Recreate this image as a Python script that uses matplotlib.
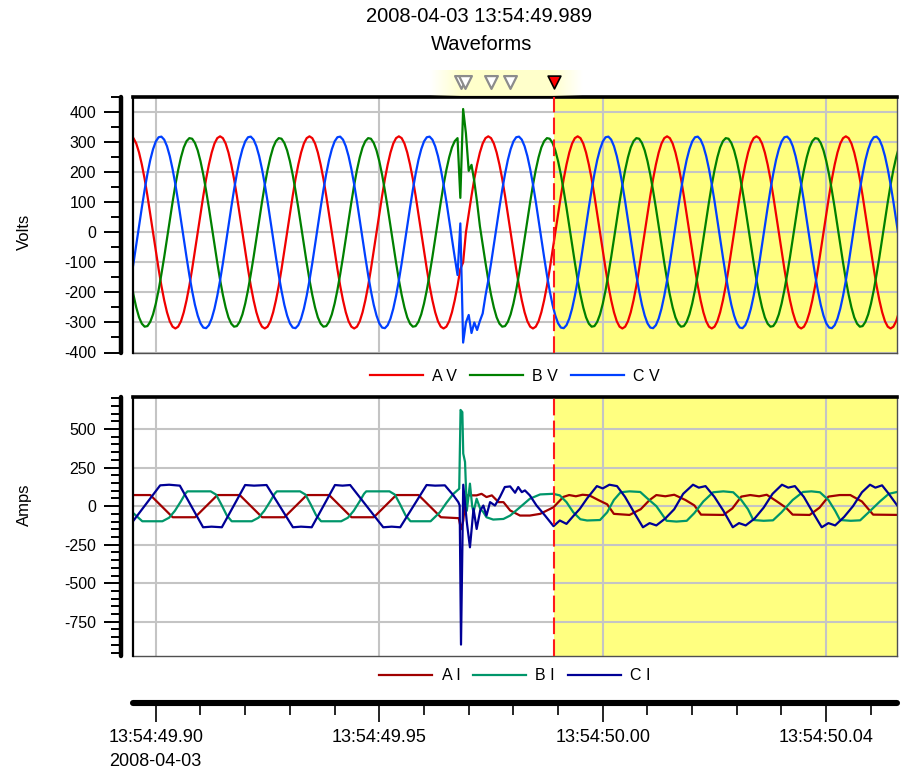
import numpy as np
import matplotlib
matplotlib.use("Agg")
import matplotlib.pyplot as plt
from matplotlib.ticker import MultipleLocator

plt.rcParams['font.family'] = ['Liberation Sans', 'DejaVu Sans']
plt.rcParams['axes.unicode_minus'] = False

# voltage channels are sampled every 0.625 ms; time is ms after 13:54:49.900
T0_MS = -5.6
DT_MS = 0.625

volts_a = [
    320, 314, 296, 266, 226, 178, 122, 62, 0, -62, -122, -178, -226, -266, -296, -314, -320, -314, -296, -266, -226, -178, -122, -62, 0, 62, 122, 178, 226, 266, 296, 314,
    320, 314, 296, 266, 226, 178, 122, 62, 0, -62, -122, -178, -226, -266, -296, -314, -320, -314, -296, -266, -226, -178, -122, -62, 0, 62, 122, 178, 226, 266, 296, 314,
    320, 314, 296, 266, 226, 178, 122, 62, 0, -62, -122, -178, -226, -266, -296, -314, -320, -314, -296, -266, -226, -178, -122, -62, 0, 62, 122, 178, 226, 266, 296, 314,
    320, 314, 296, 266, 226, 178, 122, 62, 0, -62, -122, -178, -226, -266, -296, -314, -320, -314, -296, -266, -226, -178, -122, -100, 0, 62, 122, 178, 226, 266, 296, 314,
    320, 314, 296, 266, 226, 178, 122, 62, 0, -62, -122, -178, -226, -266, -296, -314, -320, -314, -296, -266, -226, -178, -122, -62, 0, 62, 122, 178, 226, 266, 296, 314,
    320, 314, 296, 266, 226, 178, 122, 62, 0, -62, -122, -178, -226, -266, -296, -314, -320, -314, -296, -266, -226, -178, -122, -62, 0, 62, 122, 178, 226, 266, 296, 314,
    320, 314, 296, 266, 226, 178, 122, 62, 0, -62, -122, -178, -226, -266, -296, -314, -320, -314, -296, -266, -226, -178, -122, -62, 0, 62, 122, 178, 226, 266, 296, 314,
    320, 314, 296, 266, 226, 178, 122, 62, 0, -62, -122, -178, -226, -266, -296, -314, -320, -314, -296, -266, -226, -178, -122, -62, 0, 62, 122, 178, 226, 266, 296, 314,
    320, 314, 296, 266, 226, 178, 122, 62, 0, -62, -122, -178, -226, -266, -296, -314, -320, -314, -296, -266,
]
volts_b = [
    -158, -208, -250, -283, -304, -314, -312, -298, -273, -237, -192, -139, -82, -21, 41, 101, 158, 208, 250, 283, 304, 314, 312, 298, 273, 237, 192, 139, 82, 21, -41, -101,
    -158, -208, -250, -283, -304, -314, -312, -298, -273, -237, -192, -139, -82, -21, 41, 101, 158, 208, 250, 283, 304, 314, 312, 298, 273, 237, 192, 139, 82, 21, -41, -101,
    -158, -208, -250, -283, -304, -314, -312, -298, -273, -237, -192, -139, -82, -21, 41, 101, 158, 208, 250, 283, 304, 314, 312, 298, 273, 237, 192, 139, 82, 21, -41, -101,
    -158, -208, -250, -283, -304, -314, -312, -298, -273, -237, -192, -139, -82, -21, 41, 101, 158, 208, 250, 283, 304, 314, 115, 411, 330, 205, 225, 170, 100, 21, -41, -101,
    -158, -208, -250, -283, -304, -314, -312, -298, -273, -237, -192, -139, -82, -21, 41, 101, 158, 208, 250, 283, 304, 314, 312, 298, 273, 237, 192, 139, 82, 21, -41, -101,
    -158, -208, -250, -283, -304, -314, -312, -298, -273, -237, -192, -139, -82, -21, 41, 101, 158, 208, 250, 283, 304, 314, 312, 298, 273, 237, 192, 139, 82, 21, -41, -101,
    -158, -208, -250, -283, -304, -314, -312, -298, -273, -237, -192, -139, -82, -21, 41, 101, 158, 208, 250, 283, 304, 314, 312, 298, 273, 237, 192, 139, 82, 21, -41, -101,
    -158, -208, -250, -283, -304, -314, -312, -298, -273, -237, -192, -139, -82, -21, 41, 101, 158, 208, 250, 283, 304, 314, 312, 298, 273, 237, 192, 139, 82, 21, -41, -101,
    -158, -208, -250, -283, -304, -314, -312, -298, -273, -237, -192, -139, -82, -21, 41, 101, 158, 208, 250, 283,
]
volts_c = [
    -160, -103, -42, 21, 83, 142, 195, 241, 277, 303, 317, 319, 309, 287, 254, 211, 160, 103, 42, -21, -83, -142, -195, -241, -277, -303, -317, -319, -309, -287, -254, -211,
    -160, -103, -42, 21, 83, 142, 195, 241, 277, 303, 317, 319, 309, 287, 254, 211, 160, 103, 42, -21, -83, -142, -195, -241, -277, -303, -317, -319, -309, -287, -254, -211,
    -160, -103, -42, 21, 83, 142, 195, 241, 277, 303, 317, 319, 309, 287, 254, 211, 160, 103, 42, -21, -83, -142, -195, -241, -277, -303, -317, -319, -309, -287, -254, -211,
    -160, -103, -42, 21, 83, 142, 195, 241, 277, 303, 317, 319, 309, 287, 254, 211, 160, 103, 42, -21, -83, -142, 30, -367, -300, -275, -335, -300, -325, -295, -270, -211,
    -160, -103, -42, 21, 83, 142, 195, 241, 277, 303, 317, 319, 309, 287, 254, 211, 160, 103, 42, -21, -83, -142, -195, -241, -277, -303, -317, -319, -309, -287, -254, -211,
    -160, -103, -42, 21, 83, 142, 195, 241, 277, 303, 317, 319, 309, 287, 254, 211, 160, 103, 42, -21, -83, -142, -195, -241, -277, -303, -317, -319, -309, -287, -254, -211,
    -160, -103, -42, 21, 83, 142, 195, 241, 277, 303, 317, 319, 309, 287, 254, 211, 160, 103, 42, -21, -83, -142, -195, -241, -277, -303, -317, -319, -309, -287, -254, -211,
    -160, -103, -42, 21, 83, 142, 195, 241, 277, 303, 317, 319, 309, 287, 254, 211, 160, 103, 42, -21, -83, -142, -195, -241, -277, -303, -317, -319, -309, -287, -254, -211,
    -160, -103, -42, 21, 83, 142, 195, 241, 277, 303, 317, 319, 309, 287, 254, 211, 160, 103, 42, -21,
]

# current channels, as (ms, amps) breakpoints
amps_a_t = [-5.6, -1.2, 3.8, 8.8, 13.8, 18.8, 23.8, 28.8, 33.8, 38.8, 43.8, 48.8, 53.8, 58.8, 63.8,
            67.8, 68.3, 68.8, 69.3, 69.6, 71.8, 72.9, 74.0, 75.2, 76.7, 77.8, 79.3, 81.5, 83.7, 86.0,
            89.0, 91.2, 92.5, 94.0, 95.5, 97.0, 99.0, 101.0, 102.5, 106.0, 108.5, 110.5, 112.0, 114.0,
            116.0, 118.5, 120.5, 122.0, 127.0, 129.0, 131.0, 133.0, 135.0, 136.7, 139.0, 141.0, 142.5,
            146.3, 148.5, 150.5, 153.0, 155.4, 158.0, 160.5, 166.5]
amps_a = [72, 72, -72, -72, 72, 72, -72, -72, 72, 72, -72, -72, 72, 72, -72,
          -78, -150, -95, 45, 70, 70, 80, 59, 70, 26, 26, -28, -61, -61, -50,
          -7, 60, 72, 64, 74, 70, 40, 12, -50, -57, -20, 40, 72, 64,
          74, 40, 5, -55, -57, -15, 62, 72, 64, 74, 30, -10, -55,
          -57, -10, 62, 72, 72, 30, -55, -57]

amps_b_t = [-5.6, -3.0, 1.5, 3.0, 4.3, 5.6, 6.6, 7.1, 12.3, 13.5, 14.7, 15.9, 17.0,
            21.5, 23.0, 24.3, 25.6, 26.6, 27.1, 32.3, 33.5, 34.7, 35.9, 37.0,
            41.5, 43.0, 44.3, 45.6, 46.6, 47.1, 52.3, 53.5, 54.7, 55.9, 57.0,
            61.5, 63.6, 65.0, 66.6, 67.9, 68.2, 68.6, 68.8, 69.2, 69.6, 70.3, 70.8, 71.1, 71.8,
            72.6, 73.3, 74.0, 75.5, 77.8, 79.3, 81.5, 83.7, 86.0, 88.9, 90.4, 91.9, 93.4, 95.0,
            96.5, 99.4, 101.0, 102.5, 104.0, 106.0, 108.4, 110.0, 112.0, 114.3, 116.5, 118.8,
            120.5, 122.5, 124.7, 127.0, 129.2, 131.0, 132.5, 133.7, 136.0, 138.1, 140.0, 142.5,
            144.8, 146.7, 148.6, 150.5, 152.0, 153.1, 155.5, 157.6, 159.5, 162.0, 164.0, 166.5]
amps_b = [-30, -98, -98, -75, -30, 30, 80, 96, 96, 75, 10, -60, -98,
          -98, -75, -30, 30, 80, 96, 96, 75, 10, -60, -98,
          -98, -75, -30, 30, 80, 96, 96, 75, 10, -60, -98,
          -98, -39, 20, 80, 113, 624, 610, 341, 287, -30, 146, 0, -39, 48,
          -17, -39, -72, -87, -83, -61, -7, 48, 76, 80, 70, 26, -39, -85,
          -93, -90, -40, 40, 90, 96, 92, 50, 0, -95, -100, -95,
          -45, 30, 90, 96, 90, 40, -20, -90, -95, -92, -40, 40,
          92, 96, 90, 40, -30, -90, -95, -92, -40, 30, 80, 96]

amps_c_t = [-5.6, 1.0, 3.0, 5.4, 10.6, 12.5, 14.8, 20.0, 22.0, 24.8, 30.7, 32.5, 34.9,
            40.1, 41.8, 43.5, 50.9, 52.8, 54.7, 60.6, 62.5, 64.7, 66.6, 67.7, 68.0, 68.3,
            68.8, 69.6, 70.3, 71.1, 71.8, 72.6, 73.3, 74.0, 74.8, 75.9, 77.0, 78.1, 79.3,
            80.4, 81.1, 81.9, 82.6, 83.7, 85.2, 87.1, 89.0, 90.4, 91.9, 93.4, 94.9, 96.5,
            98.7, 100.0, 101.5, 103.2, 105.0, 107.0, 109.0, 110.5, 112.0, 114.0, 116.0,
            118.0, 120.2, 121.5, 123.0, 125.0, 127.0, 129.1, 130.5, 132.0, 134.0, 136.0,
            138.0, 140.1, 141.5, 143.0, 145.0, 147.0, 149.0, 150.5, 152.0, 154.0, 156.0,
            158.0, 159.8, 161.0, 162.5, 164.0, 166.5]
amps_c = [-118, 135, 139, 133, -137, -133, -137, 137, 133, 137, -137, -133, -137,
          137, 133, 137, -137, -133, -137, 137, 133, 135, 70, 26, 5, -898,
          139, -104, -267, -17, -148, -28, 4, -61, 26, 4, 59, 124, 128,
          87, 124, 91, 102, 70, 4, -61, -130, -93, -115, -65, -17, 50,
          130, 115, 139, 130, 60, -40, -137, -110, -125, -80, -20,
          80, 139, 120, 130, 60, -30, -137, -110, -125, -80, -10,
          80, 139, 120, 130, 60, -40, -137, -110, -125, -70, 0,
          90, 139, 120, 135, 80, -20]

time_ticks = [0, 50, 100, 150]
time_labels = ['13:54:49.90', '13:54:49.95', '13:54:50.00', '13:54:50.04']
date_label = '2008-04-03'
volt_ticks = [-400, -300, -200, -100, 0, 100, 200, 300, 400]
volt_labels = ['-400', '-300', '-200', '-100', '0', '100', '200', '300', '400']
amp_ticks = [-750, -500, -250, 0, 250, 500]
amp_labels = ['-750', '-500', '-250', '0', '250', '500']
cursor_ms = 89.0
event_marks_ms = [68.3, 69.2, 75.0, 79.3]
header = '2008-04-03 13:54:49.989'

volt_names = ['A V', 'B V', 'C V']
volt_colors = ['#f00000', '#008000', '#0040ff']
amp_names = ['A I', 'B I', 'C I']
amp_colors = ['#a00000', '#00966a', '#000096']

XLIM = (-5.08, 165.84)

W, H = 907, 781
fig = plt.figure(figsize=(W / 100, H / 100), dpi=100)


def panel(top, bottom):
    left, right = 133, 897
    return fig.add_axes([left / W, 1 - bottom / H, (right - left) / W, (bottom - top) / H])


def style_panel(ax, ylim, ticks, labels):
    ax.set_ylim(*ylim)
    ax.set_yticks(ticks)
    ax.set_yticklabels(labels)
    ax.yaxis.set_minor_locator(MultipleLocator(50))
    ax.set_xticks(time_ticks)
    ax.tick_params(axis='x', bottom=False, labelbottom=False)
    ax.tick_params(axis='y', which='major', length=12, width=1.4, pad=6, labelsize=11.5)
    ax.tick_params(axis='y', which='minor', length=7.5, width=1.4)
    ax.grid(True, which='major', color='#c4c4c4', lw=1.5)
    ax.set_axisbelow(True)
    ax.axvspan(cursor_ms, XLIM[1] + 10, color='#ffff80', lw=0, zorder=0)
    ax.axvline(cursor_ms, color='#ff1a1a', lw=1.5, dashes=(8, 2.5), zorder=4)
    ax.set_xlim(*XLIM)
    ax.spines['left'].set_position(('outward', 8.6))
    ax.spines['left'].set_linewidth(3.2)
    ax.spines['left'].set_capstyle('round')
    ax.spines['top'].set_linewidth(2.6)
    ax.spines['top'].set_color('black')
    for side in ('bottom', 'right'):
        ax.spines[side].set_linewidth(1.0)
        ax.spines[side].set_color('#505050')
    ax.plot([0, 0], [0, 1], transform=ax.transAxes, color='black', lw=1.6,
            clip_on=False, zorder=5)


# voltages
ax_v = panel(97, 352.5)
t_v = T0_MS + DT_MS * np.arange(len(volts_a))
for vals, name, col in zip([volts_a, volts_b, volts_c], volt_names, volt_colors):
    ax_v.plot(t_v, vals, color=col, lw=1.6, label=name, zorder=2)
style_panel(ax_v, (-400, 451), volt_ticks, volt_labels)
ax_v.legend(loc='center', bbox_to_anchor=(0.5, -0.094), ncol=3, frameon=False,
            fontsize=11.5, handlelength=3.3, handletextpad=0.6, columnspacing=0.8)

# currents
ax_i = panel(397, 656)
for tt, vals, name, col in zip([amps_a_t, amps_b_t, amps_c_t], [amps_a, amps_b, amps_c],
                               amp_names, amp_colors):
    ax_i.plot(tt, vals, color=col, lw=1.6, label=name, zorder=2)
style_panel(ax_i, (-972, 708), amp_ticks, amp_labels)
ax_i.legend(loc='center', bbox_to_anchor=(0.5, -0.077), ncol=3, frameon=False,
            fontsize=11.5, handlelength=3.3, handletextpad=0.6, columnspacing=0.8)

# time axis below both panels
ax_t = fig.add_axes([133 / W, 1 - 703 / H, 764 / W, 0.0001])
ax_t.set_xlim(*XLIM)
ax_t.set_yticks([])
for side in ('left', 'right', 'top'):
    ax_t.spines[side].set_visible(False)
ax_t.spines['bottom'].set_linewidth(4.4)
ax_t.spines['bottom'].set_capstyle('round')
ax_t.patch.set_visible(False)
ax_t.set_xticks(time_ticks)
ax_t.set_xticklabels(time_labels)
ax_t.xaxis.set_minor_locator(MultipleLocator(10))
ax_t.tick_params(axis='x', which='major', length=13.5, width=1.2, pad=5, labelsize=13)
ax_t.tick_params(axis='x', which='minor', length=8.5, width=1.2)
ax_t.annotate(date_label, xy=(time_ticks[0], 0), xycoords=('data', 'axes fraction'),
              xytext=(0, -42), textcoords='offset points', ha='center', va='center',
              fontsize=13)

# event marker strip above the voltages
ax_m = fig.add_axes([133 / W, 1 - 96 / H, 764 / W, 26 / H])
ax_m.set_xlim(*XLIM)
ax_m.set_ylim(0, 1)
ax_m.axis('off')
u = np.linspace(0, 1, 200)
fade = np.clip(np.minimum(u, 1 - u) * 5, 0, 1)
band = np.zeros((1, 200, 4))
band[..., 0] = 1.0
band[..., 1] = 1.0
band[..., 2] = 0.78
band[..., 3] = fade * 0.9
ax_m.imshow(band, extent=(61.4, 95.5, 0, 1), aspect='auto', zorder=0)
ax_m.scatter(event_marks_ms, [0.52] * len(event_marks_ms), marker='v', s=85,
             facecolor='white', edgecolor='#8c8c8c', linewidth=1.6, zorder=2)
ax_m.scatter([cursor_ms], [0.52], marker='v', s=85, facecolor='#ff0000',
             edgecolor='black', linewidth=1.2, zorder=3)

fig.text(479 / W, 1 - 17 / H, header, ha='center', va='center', fontsize=14.5)
fig.text(482 / W, 1 - 45 / H, 'Waveforms', ha='center', va='center', fontsize=14.5)
fig.text(24 / W, 1 - 232 / H, 'Volts', rotation=90, ha='center', va='center', fontsize=12)
fig.text(24 / W, 1 - 505 / H, 'Amps', rotation=90, ha='center', va='center', fontsize=12)

fig.savefig('out.png', dpi=100)
